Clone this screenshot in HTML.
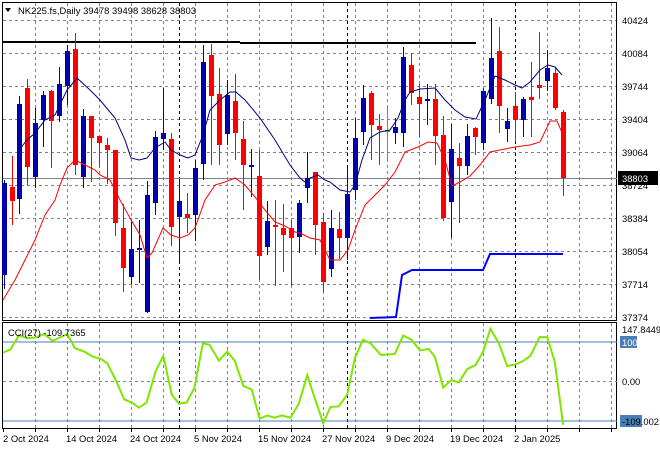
<!DOCTYPE html>
<html><head><meta charset="utf-8"><style>
html,body{margin:0;padding:0;background:#fff;}
svg{display:block;font-family:"Liberation Sans",sans-serif;}
</style></head><body>
<svg id="s" width="660" height="450" xmlns="http://www.w3.org/2000/svg">
<rect width="660" height="450" fill="#fff"/>
<g id="grid" stroke="#7a8593" stroke-width="1" stroke-dasharray="3,3"></g>
<rect x="2.5" y="2.5" width="614" height="318" fill="none" stroke="#000"/>
<rect x="2.5" y="322.5" width="614" height="106" fill="none" stroke="#000"/>
<line x1="179.5" y1="3" x2="179.5" y2="320" stroke="#000" stroke-dasharray="3,3"/>
<line x1="347.5" y1="3" x2="347.5" y2="320" stroke="#000" stroke-dasharray="3,3"/>
<line x1="515.5" y1="3" x2="515.5" y2="320" stroke="#000" stroke-dasharray="3,3"/>
<line x1="179.5" y1="323" x2="179.5" y2="428" stroke="#000" stroke-dasharray="3,3"/>
<line x1="347.5" y1="323" x2="347.5" y2="428" stroke="#000" stroke-dasharray="3,3"/>
<line x1="515.5" y1="323" x2="515.5" y2="428" stroke="#000" stroke-dasharray="3,3"/>
<line x1="3" y1="42" x2="240" y2="42" stroke="#000" stroke-width="2"/>
<line x1="240" y1="43" x2="476" y2="43" stroke="#000" stroke-width="2"/>
<line x1="3" y1="178.5" x2="617" y2="178.5" stroke="#7a8593"/>
<g id="candles"></g>
<polyline fill="none" stroke="#000080" stroke-width="1" points="19,150 27,140 35,133 45,120 55,115 67,90 77,78 90,90 100,100 115,118 125,140 131,158 139,160 147,158 155,148 165,142 171,150 180,155 188,158 195,155 203,135 210,110 220,100 230,92 236,92 245,100 260,118 275,140 290,165 300,178 305,182 310,178 318,175 325,180 330,182 340,190 350,192 355,185 362,160 370,138 380,132 390,130 398,118 405,100 410,92 420,89 435,88 445,100 455,110 465,117 476,119 485,100 495,76 505,80 515,85 522,88 530,82 540,70 548,65 555,67 562,75"/>
<polyline fill="none" stroke="#ff0000" stroke-width="1" points="3,300 15,280 25,260 35,240 45,215 55,200 60,185 67,168 75,160 85,165 95,170 100,175 110,180 120,200 130,218 140,235 147,258 152,253 163,228 171,235 180,238 188,235 195,228 205,200 215,185 225,182 235,178 245,185 255,197 265,210 275,222 285,226 295,232 300,233 310,238 320,240 330,260 340,260 348,250 355,230 365,205 375,195 385,185 395,172 405,152 418,147 428,142 437,143 445,160 452,186 460,182 470,176 480,165 490,152 500,150 515,147 530,145 540,142 550,121 557,121 563,135"/>
<polyline fill="none" stroke="#0000ff" stroke-width="2" points="370,318 396,317 402,275 406,273 412,270 483,270 490,254 563,254"/>
<line x1="3" y1="342" x2="617" y2="342" stroke="#4a7fb5"/>
<line x1="3" y1="421" x2="617" y2="421" stroke="#4a7fb5"/>
<line x1="3" y1="381.5" x2="617" y2="381.5" stroke="#7a8593" stroke-dasharray="3,3"/>
<polyline fill="none" stroke="#7fe600" transform="translate(0,318) scale(0.4209,0.3359)" vector-effect="non-scaling-stroke" style="stroke-width:2" points="8,103 25,93 45,52 65,60 85,58 105,48 125,68 160,48 178,90 200,100 220,115 240,122 255,135 275,185 295,242 315,253 330,267 348,252 370,158 388,113 408,228 425,255 443,252 462,208 482,75 498,80 520,127 540,100 558,128 578,202 598,213 617,300 635,290 652,297 670,290 690,297 710,255 730,170 748,240 768,313 785,265 805,263 825,228 843,120 862,65 880,75 905,110 938,107 958,52 978,65 998,97 1018,92 1033,115 1053,207 1072,185 1090,192 1110,152 1130,140 1148,100 1165,32 1185,75 1205,143 1225,138 1243,128 1260,113 1282,57 1300,57 1318,130 1338,318"/>
<text x="8" y="336" font-size="9.4" fill="#000">CCI(27) -109.7365</text>
<polygon points="5,8 11,8 8,12" fill="#000"/>
<text x="18" y="14" font-size="9.4" fill="#000" textLength="178">NK225.fs,Daily  39478 39498 38628 38803</text>
<g font-size="9.4" fill="#000">
<text x="622" y="24">40424</text><text x="622" y="57">40084</text><text x="622" y="90">39744</text><text x="622" y="123">39404</text><text x="622" y="156">39064</text><text x="622" y="189">38724</text><text x="622" y="222">38384</text><text x="622" y="255">38054</text><text x="622" y="288">37714</text><text x="622" y="321">37374</text>
</g>
<rect x="618" y="171" width="40" height="14" fill="#000"/>
<text x="622" y="182" font-size="9.4" fill="#fff">38803</text>
<text x="622" y="333" font-size="9.4" fill="#000">147.8449</text>
<rect x="620" y="336" width="17" height="12" fill="#4a7fb5"/>
<text x="622" y="346" font-size="9.4" fill="#fff">100</text>
<text x="622" y="385" font-size="9.4" fill="#000">0.00</text>
<rect x="620" y="415" width="22" height="12" fill="#4a7fb5"/>
<text x="622" y="425" font-size="9.4" fill="#000">-109.002</text>
<g font-size="9.4" fill="#000">
<text x="3" y="442">2 Oct 2024</text><text x="66" y="442">14 Oct 2024</text><text x="130" y="442">24 Oct 2024</text><text x="194" y="442">5 Nov 2024</text><text x="258" y="442">15 Nov 2024</text><text x="322" y="442">27 Nov 2024</text><text x="386" y="442">9 Dec 2024</text><text x="450" y="442">19 Dec 2024</text><text x="514" y="442">2 Jan 2025</text>
</g>
<g id="ticks" stroke="#000"></g>
</svg>
<script>
var NS="http://www.w3.org/2000/svg";
function el(p,t,a){var e=document.createElementNS(NS,t);for(var k in a)e.setAttribute(k,a[k]);p.appendChild(e);return e;}
var g=document.getElementById("grid");
for(var x=35;x<616;x+=32){el(g,"line",{x1:x+.5,y1:3,x2:x+.5,y2:320});el(g,"line",{x1:x+.5,y1:323,x2:x+.5,y2:428});}
[20,53,86,119,152,185,218,251,284,317].forEach(function(y){el(g,"line",{x1:3,y1:y+.5,x2:617,y2:y+.5});});
var tk=document.getElementById("ticks");
for(var x=3;x<616;x+=32){el(tk,"line",{x1:x+.5,y1:429,x2:x+.5,y2:432});}
var d=[[4,'b',183,275,180,289],[12,'r',187,201,156,225],[19,'b',104,199,96,214],[27,'r',88,167,79,185],[35,'b',123,177,108,188],[43,'b',95,120,91,147],[51,'r',91,121,90,168],[59,'b',84,116,67,122],[67,'b',51,86,45,105],[75,'r',49,165,33,175],[83,'b',116,177,109,188],[91,'r',116,138,116,182],[99,'r',136,143,136,167],[107,'r',145,150,138,184],[115,'r',150,223,150,236],[123,'r',228,268,204,292],[131,'b',249,277,222,284],[139,'b',248,250,220,283],[147,'b',195,312,181,313],[155,'b',137,203,131,215],[163,'b',133,139,88,150],[171,'r',139,227,133,246],[179,'b',201,217,180,263],[187,'r',214,218,193,233],[195,'b',168,215,160,241],[203,'b',62,164,45,180],[211,'r',55,96,44,165],[219,'r',94,145,68,165],[227,'b',95,134,80,145],[235,'r',101,133,74,160],[243,'r',139,165,121,210],[251,'b',165,167,149,197],[259,'r',176,256,150,280],[267,'b',221,247,201,255],[275,'r',225,227,200,286],[283,'r',228,235,204,272],[291,'r',228,238,220,286],[299,'b',203,237,200,253],[307,'b',178,188,152,203],[315,'r',172,225,172,255],[323,'r',222,282,213,292],[331,'b',228,269,210,277],[339,'r',229,238,212,259],[347,'b',194,238,168,260],[355,'b',138,190,118,200],[363,'b',98,132,85,145],[371,'r',93,125,91,160],[379,'r',126,130,114,165],[387,'g',130,131,108,162],[395,'b',127,133,118,144],[403,'b',57,133,47,147],[411,'r',65,93,53,105],[419,'r',97,104,84,137],[427,'b',99,101,84,125],[435,'r',99,136,84,165],[443,'r',135,218,116,221],[451,'b',149,202,124,238],[459,'r',158,166,143,223],[467,'b',136,166,124,175],[475,'r',128,137,127,155],[483,'b',91,143,88,150],[491,'b',58,99,18,104],[499,'r',51,106,27,133],[507,'b',121,129,108,142],[515,'r',106,120,92,142],[523,'b',99,120,97,137],[531,'r',97,100,62,137],[539,'r',85,88,32,99],[547,'b',68,81,50,91],[555,'r',73,108,68,110],[563,'r',112,178,110,196]];
var cg=document.getElementById("candles");
var col={b:"#0000b0",r:"#ff0000",g:"#00e000"};
d.forEach(function(c){var k=col[c[1]];el(cg,"line",{x1:c[0]+.5,y1:c[4],x2:c[0]+.5,y2:c[5],stroke:k,"stroke-width":1});el(cg,"rect",{x:c[0]-2,y:c[2],width:5,height:Math.max(2,c[3]-c[2]),fill:k});});
</script>
</body></html>
